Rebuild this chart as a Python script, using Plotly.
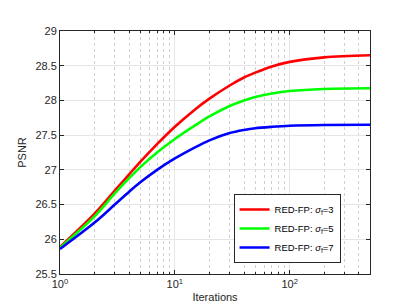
import plotly.graph_objects as go

iterations = [1, 2, 3, 4, 5, 7, 10, 15, 20, 30, 40, 50, 70, 100, 200, 500]
psnr_s3 = [25.89, 26.37, 26.70, 26.935, 27.115, 27.37, 27.62, 27.87, 28.025, 28.215, 28.33, 28.40, 28.49, 28.555, 28.62, 28.65]
psnr_s5 = [25.88, 26.33, 26.66, 26.88, 27.04, 27.25, 27.445, 27.64, 27.77, 27.92, 28.00, 28.05, 28.10, 28.135, 28.165, 28.175]
psnr_s7 = [25.86, 26.24, 26.50, 26.685, 26.82, 27.00, 27.165, 27.325, 27.425, 27.53, 27.575, 27.60, 27.62, 27.635, 27.646, 27.65]

series = [
    ("RED-FP: <i>σ</i><sub>f</sub>=3", psnr_s3, "#ff0000"),
    ("RED-FP: <i>σ</i><sub>f</sub>=5", psnr_s5, "#00ff00"),
    ("RED-FP: <i>σ</i><sub>f</sub>=7", psnr_s7, "#0000ff"),
]

x_tickvals = [1, 10, 100]
x_ticktext = ["10<sup>0</sup>", "10<sup>1</sup>", "10<sup>2</sup>"]
x_minorvals = [2, 3, 4, 5, 6, 7, 8, 9, 20, 30, 40, 50, 60, 70, 80, 90, 200, 300, 400]
y_tickvals = [25.5, 26, 26.5, 27, 27.5, 28, 28.5, 29]
y_ticktext = ["25.5", "26", "26.5", "27", "27.5", "28", "28.5", "29"]

fig = go.Figure()
for name, vals, col in series:
    fig.add_trace(go.Scatter(x=iterations, y=vals, mode="lines", name=name,
                             line=dict(color=col, width=2.6, shape="spline", smoothing=0.9)))

axis_common = dict(
    showline=True, linecolor="#262626", linewidth=1, mirror="ticks",
    ticks="inside", ticklen=4, tickcolor="#262626",
    showgrid=True, gridcolor="#e6e6e6", gridwidth=1,
    tickfont=dict(family="Liberation Sans, Arial", size=11, color="#262626"),
    zeroline=False,
)

fig.update_layout(
    width=399, height=306,
    margin=dict(l=52, r=37, t=23, b=38),
    paper_bgcolor="white", plot_bgcolor="white",
    font=dict(family="Liberation Sans, Arial", size=11, color="#262626"),
    xaxis=dict(type="log", range=[0, 2.699], tickvals=x_tickvals, ticktext=x_ticktext,
               title=dict(text="Iterations", standoff=4, font=dict(size=11)),
               minor=dict(tickmode="array", tickvals=x_minorvals, ticks="inside", ticklen=2,
                          tickcolor="#262626", showgrid=True,
                          gridcolor="#d0d0d0", griddash="dot", gridwidth=1),
               **axis_common),
    yaxis=dict(range=[25.5, 29], tickvals=y_tickvals, ticktext=y_ticktext,
               title=dict(text="PSNR", standoff=6, font=dict(size=11)),
               **axis_common),
    legend=dict(x=0.905, y=0.045, xanchor="right", yanchor="bottom",
                bgcolor="white", bordercolor="#262626", borderwidth=1,
                font=dict(size=9.5, color="#000000"), tracegroupgap=0,
                itemwidth=30),
    showlegend=True,
)

fig.write_html("out.html")
